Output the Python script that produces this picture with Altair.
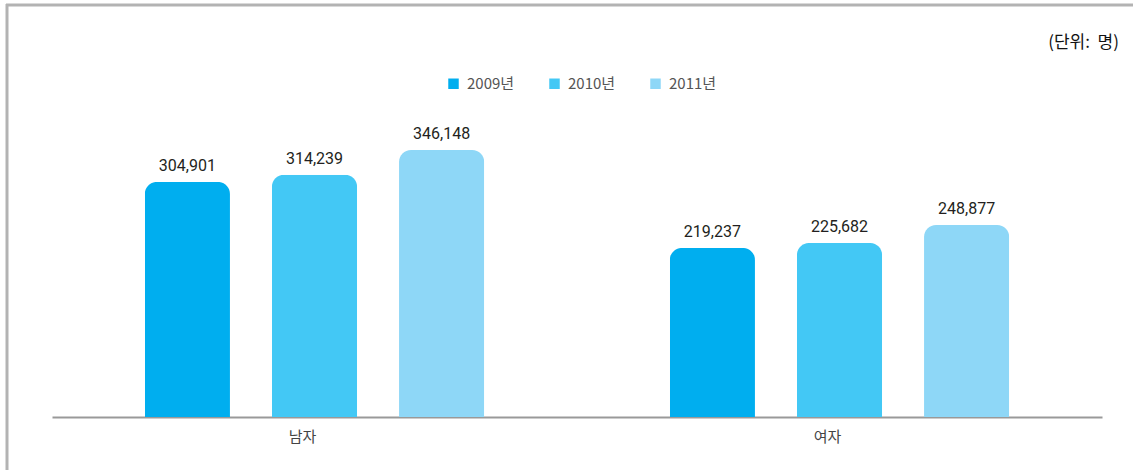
import altair as alt
import pandas as pd

genders = ["남자", "여자"]
years = ["2009년", "2010년", "2011년"]
values_male = [304901, 314239, 346148]
values_female = [219237, 225682, 248877]
colors = ["#00AEEF", "#43C8F5", "#8ED7F7"]

rows = []
for y, v in zip(years, values_male):
    rows.append({"gender": "남자", "year": y, "value": v, "label": f"{v:,}"})
for y, v in zip(years, values_female):
    rows.append({"gender": "여자", "year": y, "value": v, "label": f"{v:,}"})
df = pd.DataFrame(rows)

KFONT = "Noto Sans CJK KR"

x_enc = alt.X("gender:N", sort=genders, title=None,
              scale=alt.Scale(paddingInner=0, paddingOuter=0),
              axis=alt.Axis(labelAngle=0, ticks=False, domainColor="#999999",
                            domainWidth=2, labelFont=KFONT, labelFontSize=15,
                            labelColor="#444444", labelPadding=12, labelOffset=-12))
xoff = alt.XOffset("year:N", sort=years,
                   scale=alt.Scale(paddingInner=0.33, paddingOuter=0.73))
y_enc = alt.Y("value:Q", scale=alt.Scale(domain=[0, 476000]), axis=None)

base = alt.Chart(df)

bars = base.mark_bar(cornerRadiusTopLeft=12, cornerRadiusTopRight=12).encode(
    x=x_enc, xOffset=xoff, y=y_enc,
    color=alt.Color("year:N", sort=years,
                    scale=alt.Scale(domain=years, range=colors),
                    legend=alt.Legend(title=None, orient="none", direction="horizontal",
                                      legendX=394, legendY=26, symbolType="square",
                                      symbolSize=110, symbolStrokeWidth=0,
                                      labelFont=KFONT, labelFontSize=15,
                                      labelColor="#555555", columnPadding=32,
                                      labelOffset=6, padding=0))
)

labels = base.mark_text(dy=-8, baseline="bottom", font="Roboto", fontSize=16,
                        color="#231F20").encode(
    x=x_enc, xOffset=xoff, y=y_enc, text="label:N"
)

unit = alt.Chart(pd.DataFrame({"t": ["(단위:\u00a0\u00a0명)"]})).mark_text(
    align="right", baseline="middle", font=KFONT, fontSize=17, color="#111111"
).encode(x=alt.value(1067), y=alt.value(-7), text="t:N")

frame_left = alt.Chart(pd.DataFrame({"a": [0]})).mark_rule(
    color="#B3B3B3", strokeWidth=3).encode(
    x=alt.value(-45), y=alt.value(-46), y2=alt.value(430))
frame_top = alt.Chart(pd.DataFrame({"a": [0]})).mark_rule(
    color="#B3B3B3", strokeWidth=3).encode(
    x=alt.value(-46), x2=alt.value(1090), y=alt.value(-45))

chart = alt.layer(frame_left, frame_top, bars, labels, unit).properties(
    width=1050, height=367,
    autosize=alt.AutoSizeParams(type="none"),
    padding={"left": 52, "top": 50, "right": 31, "bottom": 53},
    background="white",
).configure_view(stroke=None)

chart.save("out.html", embed_options={"renderer": "svg", "actions": False})
